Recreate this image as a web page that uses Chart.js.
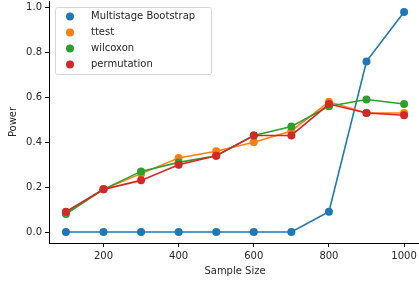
<!DOCTYPE html>
<html>
<head>
<meta charset="utf-8">
<script src="https://cdn.jsdelivr.net/npm/chart.js@4"></script>
<style>
  html, body { margin: 0; padding: 0; background: #fff; overflow: hidden; }
  #wrap { width: 430px; height: 294px; margin-top: -8px; }
</style>
</head>
<body>
<div id="wrap"><canvas id="chart" width="430" height="294"></canvas></div>
<script>
// Data
const sampleSizes = [100, 200, 300, 400, 500, 600, 700, 800, 900, 1000];
const bootstrapPower = [0, 0, 0, 0, 0, 0, 0, 0.09, 0.76, 0.98];
const ttestPower = [0.085, 0.19, 0.26, 0.33, 0.36, 0.40, 0.45, 0.58, 0.53, 0.53];
const wilcoxonPower = [0.08, 0.19, 0.27, 0.31, 0.34, 0.43, 0.47, 0.56, 0.59, 0.57];
const permutationPower = [0.09, 0.19, 0.23, 0.30, 0.34, 0.43, 0.43, 0.57, 0.53, 0.52];
const seriesNames = ['Multistage Bootstrap', 'ttest', 'wilcoxon', 'permutation'];
const xTicks = [200, 400, 600, 800, 1000];
const yTicks = [0, 0.2, 0.4, 0.6, 0.8, 1.0];

const colors = ['#1f77b4', '#ff7f0e', '#2ca02c', '#d62728'];
const FONT = "'DejaVu Sans', sans-serif";
const TEXT = '#262626';
const SHIFT = 8; // canvas is pulled up by this much

function toPoints(values) {
    return values.map((v, i) => ({ x: sampleSizes[i], y: v }));
}

function makeDataset(idx, values) {
    return {
        label: seriesNames[idx],
        data: toPoints(values),
        borderColor: colors[idx],
        backgroundColor: colors[idx],
        pointBackgroundColor: colors[idx],
        pointBorderColor: colors[idx],
        borderWidth: 1.6,
        pointRadius: 4,
        pointBorderWidth: 0,
        tension: 0,
        order: 3 - idx
    };
}

// Legend drawn inside the plot area, matplotlib style
const innerLegend = {
    id: 'innerLegend',
    afterDraw(chart) {
        const ctx = chart.ctx;
        const x0 = 55.5, y0 = 7.5 + SHIFT, w = 156, h = 67;
        ctx.save();
        ctx.fillStyle = 'rgba(255,255,255,0.8)';
        ctx.strokeStyle = '#d6d6d6';
        ctx.lineWidth = 1;
        ctx.beginPath();
        ctx.roundRect(x0, y0, w, h, 2);
        ctx.fill();
        ctx.stroke();
        ctx.font = '10px ' + FONT;
        ctx.textBaseline = 'middle';
        chart.data.datasets.forEach((ds, i) => {
            const cy = y0 + 9 + i * 16;
            ctx.fillStyle = ds.borderColor;
            ctx.beginPath();
            ctx.arc(70, cy, 4, 0, Math.PI * 2);
            ctx.fill();
            ctx.fillStyle = TEXT;
            ctx.fillText(ds.label, 91, cy);
        });
        ctx.restore();
    }
};

new Chart(document.getElementById('chart').getContext('2d'), {
    type: 'line',
    data: {
        datasets: [
            makeDataset(0, bootstrapPower),
            makeDataset(1, ttestPower),
            makeDataset(2, wilcoxonPower),
            makeDataset(3, permutationPower)
        ]
    },
    options: {
        responsive: false,
        animation: false,
        layout: { padding: { top: 1.5, right: 9, left: 0, bottom: 0 } },
        plugins: {
            legend: { display: false },
            tooltip: { enabled: false }
        },
        scales: {
            x: {
                type: 'linear',
                min: 55,
                max: 1045,
                afterFit(scale) { scale.height = 43; },
                afterBuildTicks(scale) { scale.ticks = xTicks.map(v => ({ value: v })); },
                border: { display: true, color: '#000', width: 1 },
                grid: { drawOnChartArea: false, drawTicks: true, tickLength: 4, tickColor: '#000' },
                ticks: {
                    color: TEXT,
                    font: { family: FONT, size: 10 },
                    padding: 3,
                    maxRotation: 0,
                    callback: v => String(v)
                },
                title: {
                    display: true,
                    text: 'Sample Size',
                    color: TEXT,
                    font: { family: FONT, size: 10 },
                    padding: { top: 0, bottom: 9 }
                }
            },
            y: {
                type: 'linear',
                min: -0.049,
                max: 1.029,
                afterFit(scale) { scale.width = 49; },
                afterBuildTicks(scale) { scale.ticks = yTicks.map(v => ({ value: v })); },
                border: { display: true, color: '#000', width: 1 },
                grid: { drawOnChartArea: false, drawTicks: true, tickLength: 4, tickColor: '#000' },
                ticks: {
                    color: TEXT,
                    font: { family: FONT, size: 10 },
                    padding: 3,
                    callback: v => v.toFixed(1)
                },
                title: {
                    display: true,
                    text: 'Power',
                    color: TEXT,
                    font: { family: FONT, size: 10 },
                    padding: { top: 7, bottom: 0 }
                }
            }
        }
    },
    plugins: [innerLegend]
});
</script>
</body>
</html>
